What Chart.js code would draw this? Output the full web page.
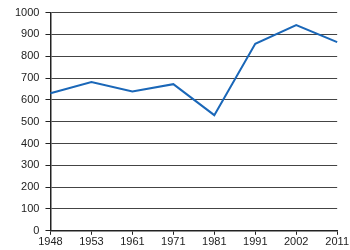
<!DOCTYPE html>
<html>
<head>
<meta charset="utf-8">
<script src="https://cdn.jsdelivr.net/npm/chart.js@4/dist/chart.umd.min.js"></script>
<style>
  html, body { margin: 0; padding: 0; background: #fff; }
  #wrap { width: 350px; height: 250px; }
</style>
</head>
<body>
<div id="wrap"><canvas id="chart" width="350" height="250"></canvas></div>
<script>
const years = ["1948", "1953", "1961", "1971", "1981", "1991", "2002", "2011"];
const values = [630, 682, 638, 672, 530, 857, 943, 865];
const yTicks = [0, 100, 200, 300, 400, 500, 600, 700, 800, 900, 1000];

const ctx = document.getElementById('chart').getContext('2d');
new Chart(ctx, {
  type: 'line',
  data: {
    labels: years,
    datasets: [{
      data: values,
      borderColor: '#1a67b8',
      borderWidth: 2,
      pointRadius: 0,
      tension: 0,
      fill: false
    }]
  },
  options: {
    responsive: false,
    animation: false,
    layout: { padding: { top: 0, right: 2, left: 9, bottom: 0 } },
    plugins: { legend: { display: false }, tooltip: { enabled: false } },
    scales: {
      x: {
        offset: false,
        grid: { color: 'transparent', tickColor: '#222', tickLength: 4, drawOnChartArea: false },
        border: { color: '#222', width: 1.5 },
        ticks: { color: '#222', font: { family: 'Liberation Sans', size: 11 }, padding: 1, maxRotation: 0, autoSkip: false }
      },
      y: {
        min: 0,
        max: 1000,
        afterBuildTicks: axis => { axis.ticks = yTicks.map(v => ({ value: v })); },
        grid: { color: '#444', lineWidth: 1, tickColor: '#222', tickLength: 5 },
        border: { color: '#222', width: 1.5 },
        ticks: { color: '#222', font: { family: 'Liberation Sans', size: 11 }, padding: 6, callback: v => String(v) }
      }
    }
  }
});
</script>
</body>
</html>
